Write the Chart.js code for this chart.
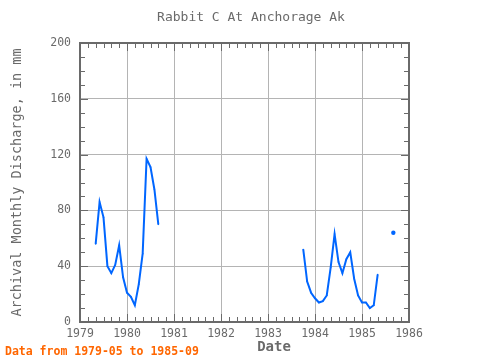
<!DOCTYPE html>
<html>
<head>
<meta charset="utf-8">
<script src="https://cdn.jsdelivr.net/npm/chart.js@4/dist/chart.umd.min.js"></script>
<style>
  html, body { margin: 0; padding: 0; background: #fff; }
  #wrap { width: 480px; height: 360px; }
</style>
</head>
<body>
<div id="wrap"><canvas id="myChart" width="480" height="360"></canvas></div>
<script>
const chartTitle = 'Rabbit C At Anchorage Ak'
const yTitle = 'Archival Monthly Discharge, in mm'
const xTitle = 'Date'
const footnote = 'Data from 1979-05 to 1985-09'

// monthly values from 1979-05 to 1985-09, null = no data
const startYear = 1979
const startMonth = 5
const discharge = [
    56, 86, 75, 40, 35, 41, 55, 32,                         // 1979-05..12
    21, 18, 12, 27, 49, 117, 111, 95, 70, null, null, null, // 1980
    null, null, null, null, null, null, null, null, null, null, null, null, // 1981
    null, null, null, null, null, null, null, null, null, null, null, null, // 1982
    null, null, null, null, null, null, null, null, null, 52, 29, 21,       // 1983
    17, 14, 15, 19, 39, 63, 43, 35, 45, 50, 31, 19,         // 1984
    14, 14, 10, 12, 34, null, null, null, 64                // 1985-01..09
]
const yTicks = [0, 40, 80, 120, 160, 200]
const xYears = [1979, 1980, 1981, 1982, 1983, 1984, 1985, 1986]

const grey = '#6a6a6a'
const mono = "'DejaVu Sans Mono', monospace"

// x position of each month as decimal year
const points = discharge.map(function(v, i) {
    return { x: startYear + (startMonth - 1 + i) / 12, y: v }
})

const frameTicks = {
    id: 'frameTicks',
    afterDraw(chart) {
        const ctx = chart.ctx
        const a = chart.chartArea
        const xs = chart.scales.x
        const ys = chart.scales.y
        ctx.save()
        ctx.strokeStyle = grey
        ctx.lineWidth = 1
        ctx.beginPath()
        // minor ticks every 2 months on x
        for (let m = 0; m <= (xYears[xYears.length - 1] - xYears[0]) * 12; m += 2) {
            const px = Math.round(xs.getPixelForValue(xYears[0] + m / 12)) + 0.5
            const len = m % 12 === 0 ? 8 : 5
            ctx.moveTo(px, a.bottom); ctx.lineTo(px, a.bottom - len)
            ctx.moveTo(px, a.top); ctx.lineTo(px, a.top + len)
        }
        // minor ticks every 10 on y
        for (let v = 0; v <= 200; v += 10) {
            const py = Math.round(ys.getPixelForValue(v)) + 0.5
            const len = v % 40 === 0 ? 8 : 5
            ctx.moveTo(a.left, py); ctx.lineTo(a.left + len, py)
            ctx.moveTo(a.right, py); ctx.lineTo(a.right - len, py)
        }
        ctx.stroke()
        ctx.lineWidth = 2
        ctx.strokeRect(a.left, a.top, a.right - a.left, a.bottom - a.top)

        ctx.fillStyle = grey
        ctx.textAlign = 'center'
        ctx.textBaseline = 'middle'
        ctx.font = '13px ' + mono
        ctx.fillText(chartTitle, 251, 18)
        ctx.font = 'bold 14px ' + mono
        ctx.fillText(xTitle, 274, 347)
        ctx.fillStyle = '#ff6600'
        ctx.textAlign = 'left'
        ctx.font = 'bold 11.5px ' + mono
        ctx.fillText(footnote, 5, 352)
        ctx.restore()
    }
}

// bigger dot only where a point has no neighbours to join
function dotSize(c) {
    const i = c.dataIndex
    const prev = discharge[i - 1]
    const next = discharge[i + 1]
    return (prev == null && next == null) ? 2.2 : 0.8
}

const chart = new Chart(document.getElementById('myChart'), {
    type: 'line',
    data: {
        datasets: [{
            data: points,
            borderColor: '#0066ff',
            backgroundColor: '#0066ff',
            borderWidth: 2,
            pointRadius: dotSize,
            pointHoverRadius: dotSize,
            pointBorderWidth: 0,
            spanGaps: false,
            tension: 0
        }]
    },
    options: {
        responsive: false,
        animation: false,
        devicePixelRatio: 1,
        layout: { padding: { top: 43, right: 71, bottom: 0, left: 0 } },
        plugins: {
            legend: { display: false },
            tooltip: { enabled: false }
        },
        scales: {
            x: {
                type: 'linear',
                min: xYears[0],
                max: xYears[xYears.length - 1],
                afterFit(s) { s.height = 38 },
                afterBuildTicks(s) { s.ticks = xYears.map(v => ({ value: v })) },
                grid: { color: '#b4b4b4', drawTicks: false },
                border: { display: false },
                ticks: {
                    color: grey,
                    padding: 5,
                    maxRotation: 0,
                    font: { family: mono, size: 11.5 },
                    callback: v => String(v)
                }
            },
            y: {
                min: 0,
                max: 200,
                afterFit(s) { s.width = 80 },
                afterBuildTicks(s) { s.ticks = yTicks.map(v => ({ value: v })) },
                grid: { color: '#b4b4b4', drawTicks: false },
                border: { display: false },
                ticks: {
                    color: grey,
                    padding: 9,
                    font: { family: mono, size: 11.5 }
                },
                title: {
                    display: true,
                    text: yTitle,
                    color: grey,
                    padding: { top: 9, bottom: 0 },
                    font: { family: mono, size: 13.5 }
                }
            }
        }
    },
    plugins: [frameTicks]
})
</script>
</body>
</html>
